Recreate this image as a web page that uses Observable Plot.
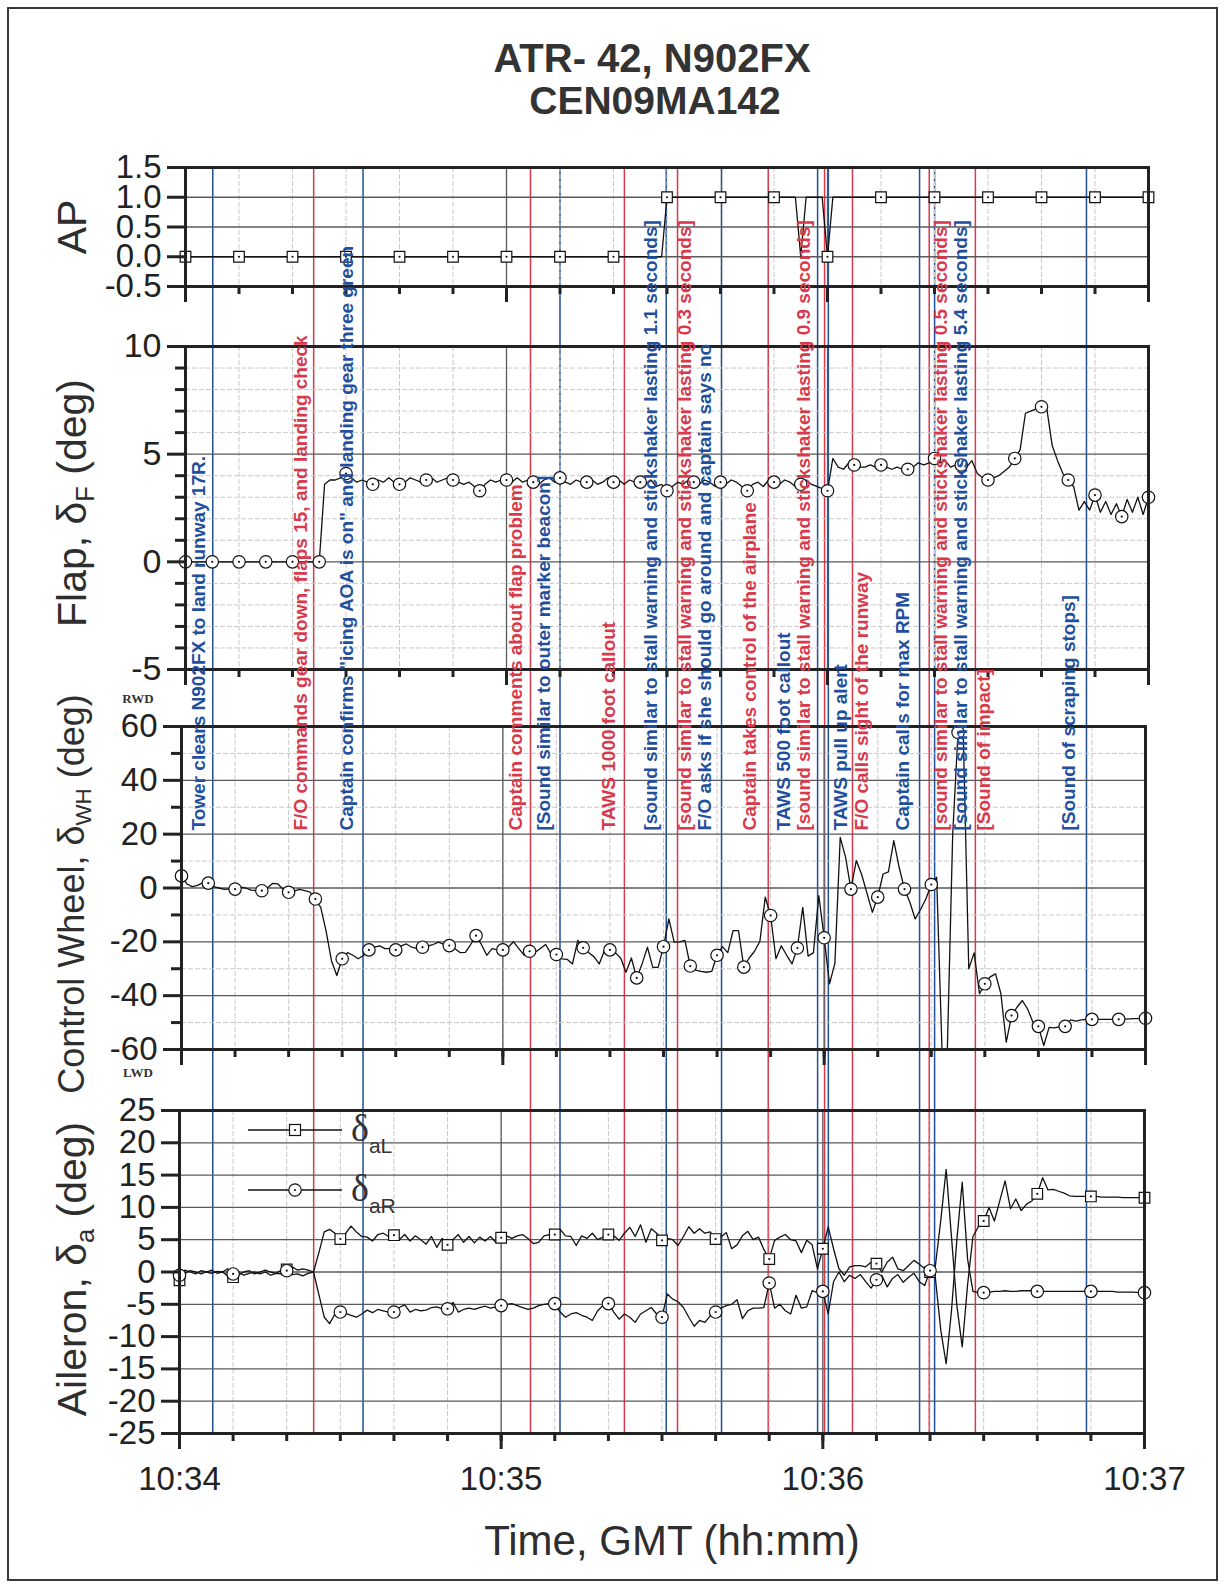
<!DOCTYPE html>
<html>
<head>
<meta charset="utf-8">
<script src="https://cdn.jsdelivr.net/npm/d3@7"></script>
<script src="https://cdn.jsdelivr.net/npm/@observablehq/plot@0.6"></script>
<style>
  html, body { margin: 0; padding: 0; background: #fff; }
  #fig { position: relative; width: 1225px; height: 1585px; overflow: hidden;
         font-family: "Liberation Sans", Arial, sans-serif; color: #2a2a2a; }
  #fig > svg { position: absolute; left: 0; top: 0; }
  .border { position: absolute; left: 7px; top: 7px; width: 1211px; height: 1574px;
            border: 2px solid #3a3a3a; box-sizing: border-box; }
  .title { position: absolute; transform: translate(-50%, -50%); font-weight: bold;
           font-size: 39px; white-space: nowrap; color: #333; }
  .ylab { position: absolute; transform: translate(-50%, -50%) rotate(-90deg);
          white-space: nowrap; color: #2e2e2e; font-size: 41px; }
  .ylab sub { font-size: 0.62em; vertical-align: -0.32em; line-height: 0; }
  .dir { position: absolute; transform: translate(-50%, -50%); font-family: "Liberation Serif", serif;
         font-weight: bold; font-size: 13px; color: #333; }
  .xtitle { position: absolute; transform: translate(-50%, -50%); font-size: 42px; white-space: nowrap; color: #2e2e2e; }
  .leg { position: absolute; font-family: "Liberation Serif", serif; font-size: 38px; color: #333; white-space: nowrap; }
  .leg sub { font-family: "Liberation Sans", Arial, sans-serif; font-size: 21px; vertical-align: -0.55em; line-height: 0; }
</style>
</head>
<body>
<div id="fig"></div>
<script>
// ---------------- data (1 sample per second, starting 10:34:00 GMT) ----------------
const startTime = "2009-01-27T10:34:00Z";

const apOn = [
  0,0,0,0,0,0,0,0,0,0, 0,0,0,0,0,0,0,0,0,0, 0,0,0,0,0,0,0,0,0,0,
  0,0,0,0,0,0,0,0,0,0, 0,0,0,0,0,0,0,0,0,0, 0,0,0,0,0,0,0,0,0,0,
  0,0,0,0,0,0,0,0,0,0, 0,0,0,0,0,0,0,0,0,0, 0,0,0,0,0,0,0,0,0,0,
  1,1,1,1,1,1,1,1,1,1, 1,1,1,1,1,1,1,1,1,1, 1,1,1,1,1,0,1,1,1,1,
  0,1,1,1,1,1,1,1,1,1, 1,1,1,1,1,1,1,1,1,1, 1,1,1,1,1,1,1,1,1,1,
  1,1,1,1,1,1,1,1,1,1, 1,1,1,1,1,1,1,1,1,1, 1,1,1,1,1,1,1,1,1,1,
  1
];

const flapDeg = [
  0,0,0,0,0,0,0,0,0,0,
  0,0,0,0,0,0,0,0,0,0,
  0,0,0,0,0,0,3.6,3.8,3.8,3.9,
  4.1,3.9,3.7,3.8,3.7,3.6,3.8,3.7,3.9,3.7,
  3.6,3.7,3.9,3.8,3.7,3.8,3.9,3.7,3.8,3.9,
  3.8,3.7,3.6,3.7,3.5,3.3,3.6,3.8,3.7,3.8,
  3.8,3.7,3.9,3.7,3.8,3.7,3.6,3.8,3.9,3.7,
  3.9,3.7,3.6,3.8,3.7,3.7,3.8,3.6,3.7,3.9,
  3.7,3.8,3.6,3.8,3.7,3.7,3.6,3.8,3.5,3.6,
  3.3,3.5,3.7,3.6,3.8,3.7,3.6,3.8,3.7,3.5,
  3.7,3.6,3.8,3.7,3.5,3.3,3.6,3.7,3.5,3.8,
  3.7,3.6,3.8,3.7,3.5,3.6,3.8,3.6,3.5,3.4,
  3.3,4.8,4.4,4.3,4.6,4.5,4.4,4.4,4.5,4.4,
  4.5,4.4,4.3,4.4,4.3,4.3,4.4,4.6,4.5,4.6,
  4.8,4.6,4.7,4.4,4.5,4.5,4.4,4.7,4.1,3.9,
  3.8,3.9,4.0,4.2,4.4,4.8,5.2,6.9,7.0,7.1,
  7.2,7.1,5.4,4.7,4.1,3.8,3.5,2.4,2.8,2.4,
  3.1,2.3,2.8,2.2,2.7,2.1,2.9,2.3,3.0,2.2,
  3.0
];

const wheelDeg = [
  4.5,1.5,0.5,1.0,2.0,1.8,0.5,0.0,-0.5,-0.3,
  -0.4,0.3,0.0,-0.8,-1.0,-1.0,0.0,1.7,1.5,-0.5,
  -1.6,-1.2,-0.5,-1.0,-1.5,-4.1,-7.2,-16,-27,-32.5,
  -26.3,-24,-25,-26.3,-25,-23,-22,-21.5,-22.5,-22.5,
  -23,-21.5,-20.8,-22,-22.5,-22,-21.5,-21,-20.1,-21,
  -21.4,-22.5,-24,-23.9,-21,-17.7,-21,-25,-22.5,-23,
  -23,-22,-20,-22.5,-25,-23.5,-24,-22.5,-21,-24.5,
  -24.7,-26.3,-26.5,-28.2,-19.5,-22.2,-24,-25.5,-28.2,-23,
  -23,-24,-26,-31.3,-26,-33.4,-28.2,-22,-29.5,-29.5,
  -21.8,-11.5,-20.1,-20,-19.5,-29,-30.5,-31,-31.3,-31,
  -25,-21.8,-24,-15.8,-15.8,-29.4,-26,-23.5,-19.8,-3.4,
  -10.2,-26.3,-21.5,-25,-28.2,-22.3,-7.2,-25.3,-24,-2.8,
  -18.5,-35.6,-28,18.8,11.4,-0.4,10.2,5,-2,-9,
  -3.4,5.2,6,17.6,7.7,-0.4,-5.3,-11.5,-8,-4,
  1.3,4,-60,-60,20,57.8,55,-30,-24.1,-39.3,
  -35.6,-33,-31.9,-39.3,-57.3,-47.4,-44.3,-41.8,-45,-50,
  -51.4,-58.5,-51.8,-52,-51.5,-51.4,-49,-49.5,-49,-48.8,
  -48.8,-48.8,-48.8,-48.8,-48.8,-48.8,-48.7,-48.6,-48.5,-48.5,
  -48.4
];

const aileronLeft = [
  -1.3,0.3,0.0,-0.3,0.2,0.0,0.3,-0.2,0.0,0.5,
  -0.8,-0.5,0.0,0.2,-0.3,0.0,0.3,0.0,-0.2,0.3,
  0.4,0.8,0.3,0.5,0.3,0.0,3.0,6.2,6.6,6.0,
  5.1,6.0,7.1,6.2,5.5,5.4,4.8,5.8,6.0,5.5,
  5.7,5.0,5.8,4.8,5.6,5.0,4.3,5.5,3.8,5.2,
  4.2,5.0,5.8,4.6,5.5,4.5,5.4,4.8,5.5,4.6,
  5.3,5.6,5.2,5.6,5.8,5.2,4.4,4.6,5.6,5.8,
  5.8,6.6,5.6,5.5,4.1,5.6,5.2,6.0,5.0,5.4,
  5.8,5.6,4.9,6.0,6.9,5.5,7.3,4.6,6.7,6.0,
  4.9,5.2,5.0,4.1,5.5,7.0,6.0,6.7,6.0,6.2,
  5.1,5.4,6.1,3.6,4.2,5.6,6.3,5.0,5.4,3.5,
  2.0,4.9,5.4,5.8,5.0,4.8,3.0,4.9,4.2,0.5,
  3.6,7.0,3.6,0.5,-0.5,0.8,1.0,1.0,0.8,1.5,
  1.3,0.0,1.5,2.3,0.5,0.2,1.0,1.8,1.2,0.5,
  0.0,1.0,8.0,15.9,5.4,-5.2,-11.6,-2.0,5.5,7.0,
  7.9,10.0,7.9,11.0,14.1,9.8,11.3,9.5,10.5,11.0,
  12.1,14.6,12.7,12.8,12.5,12.2,11.8,11.7,11.7,11.7,
  11.7,11.7,11.6,11.6,11.6,11.6,11.5,11.5,11.5,11.5,
  11.5
];

const aileronRight = [
  -0.5,-0.2,0.2,0.0,-0.3,0.0,-0.2,0.1,0.0,-0.6,
  -0.3,0.0,-0.5,-0.2,0.0,-0.3,0.0,-0.5,-0.2,-0.3,
  0.2,-0.4,-0.3,-0.6,-0.2,0.0,-3.5,-7.0,-8.0,-6.5,
  -6.2,-6.4,-6.7,-7.0,-6.5,-5.9,-6.3,-5.8,-6.0,-6.2,
  -6.2,-5.5,-5.1,-6.2,-5.8,-6.0,-5.9,-5.5,-5.4,-5.7,
  -5.7,-4.7,-6.2,-5.8,-5.6,-5.8,-5.5,-5.3,-5.6,-5.4,
  -5.2,-5.0,-4.9,-5.2,-5.5,-5.8,-5.6,-5.2,-5.0,-4.9,
  -4.9,-6.2,-7.0,-6.5,-6.3,-6.7,-7.0,-7.5,-6.0,-5.2,
  -4.9,-6.2,-7.3,-6.5,-7.0,-7.8,-6.5,-6.0,-5.5,-6.5,
  -7.0,-3.4,-4.2,-4.6,-5.5,-7.0,-8.4,-7.5,-7.8,-6.8,
  -6.2,-5.6,-5.2,-5.0,-4.3,-7.2,-6.0,-5.6,-5.6,-5.5,
  -1.7,-5.6,-5.0,-6.0,-6.5,-3.6,-5.6,-5.4,-2.9,-3.2,
  -3.0,-6.5,-1.5,0.0,-1.5,-0.5,-1.0,-0.4,-1.5,-2.5,
  -1.2,-0.5,-2.3,-1.0,-0.4,-1.6,-0.8,-0.2,-1.5,-2.1,
  0.2,-1.0,-9.0,-14.2,-6.0,5.0,13.9,2.0,-3.0,-3.2,
  -3.2,-3.1,-3.0,-3.0,-2.9,-3.0,-3.0,-2.9,-2.9,-2.9,
  -3.0,-3.0,-3.0,-3.0,-3.0,-3.0,-3.0,-3.0,-3.0,-3.0,
  -3.0,-3.0,-3.0,-3.0,-3.0,-3.1,-3.1,-3.1,-3.1,-3.2,
  -3.2
];

// CVR events: seconds after 10:34:00, where the label text sits, text, group
const eventSec   = [6.2, 25.0, 34.2, 65.4, 70.9, 82.9, 90.7, 92.8, 101.0, 109.7, 118.9, 120.2, 120.9, 125.4, 137.9, 139.7, 140.7, 148.3, 169.0];
const labelSec   = [4.8, 23.7, 32.3, 63.9, 69.0, 81.2, 88.9, 95.4, 99.1, 107.5, 113.7, 117.4, 124.3, 128.2, 136.0, 143.1, 146.8, 151.1, 166.9];
const eventGroup = ["A","B","A","B","A","B","A","B","A","B","A","B","A","B","A","B","A","B","A"];
const eventText  = [
  "Tower clears N902FX to land runway 17R.",
  "F/O commands gear down, flaps 15, and landing check",
  "Captain confirms \"icing AOA is on\" and landing gear three green",
  "Captain comments about flap problem",
  "[Sound similar to outer marker beacon]",
  "TAWS 1000 foot callout",
  "[sound similar to stall warning and stickshaker lasting 1.1 seconds]",
  "[sound similar to stall warning and stickshaker lasting 0.3 seconds]",
  "F/O asks if she should go around and captain says no",
  "Captain takes control of the airplane",
  "TAWS 500 foot callout",
  "[sound similar to stall warning and stickshaker lasting 0.9 seconds]",
  "TAWS pull up alert",
  "F/O calls sight of the runway",
  "Captain calls for max RPM",
  "[sound similar to stall warning and stickshaker lasting 0.5 seconds]",
  "[sound similar to stall warning and stickshaker lasting 5.4 seconds]",
  "[Sound of impact]",
  "[Sound of scraping stops]"
];

// axis ticks
const apTicks = [-0.5, 0, 0.5, 1.0, 1.5];
const flapTicks = [-5, 0, 5, 10];
const wheelTicks = [-60, -40, -20, 0, 20, 40, 60];
const aileronTicks = [-25, -20, -15, -10, -5, 0, 5, 10, 15, 20, 25];
const minuteLabels = ["10:34", "10:35", "10:36", "10:37"];

// ---------------- drawing ----------------
const W = 1225, H = 1585;
const FONT = '"Liberation Sans", Arial, sans-serif';
const INK = "#222";
const BLUE = "#1f4f9e", RED = "#d8394b";
const GRID_LIGHT = "#c9c9c9", GRID_DARK = "#5a5a5a";
const T0 = Date.parse(startTime);
const at = s => new Date(T0 + s * 1000);
const fig = document.getElementById("fig");

const rows = arr => arr.map((v, i) => ({t: at(i), v}));
const everyN = (r, n) => r.filter((d, i) => i % n === 0);
const tenSec = d3.range(0, 181, 10).map(at);
const minuteTicks = d3.range(0, 181, 60).map(at);
const innerMinutes = [at(60), at(120)];

function el(cls, html, x, y, extra) {
  const d = document.createElement("div");
  d.className = cls; d.innerHTML = html;
  d.style.left = x + "px"; d.style.top = y + "px";
  if (extra) Object.assign(d.style, extra);
  fig.appendChild(d);
  return d;
}

function place(svg) {
  svg.style.background = "transparent";
  svg.style.overflow = "visible";
  svg.style.fontFamily = FONT;
  svg.style.color = INK;
  svg.style.position = "absolute";
  svg.style.left = "0px";
  svg.style.top = "0px";
  svg.style.maxWidth = "none";
  fig.appendChild(svg);
}

function symbolMarks(data, symbol, r) {
  return [
    Plot.dot(data, {x: "t", y: "v", symbol, r, fill: "white", stroke: "#111", strokeWidth: 1.2}),
    Plot.dot(data, {x: "t", y: "v", r: 1.1, fill: "#111"})
  ];
}

function panel(cfg) {
  const marks = [
    Plot.gridX({ticks: tenSec, stroke: GRID_LIGHT, strokeOpacity: 1, strokeDasharray: "5,2"}),
    Plot.gridX({ticks: innerMinutes, stroke: GRID_DARK, strokeOpacity: 1, strokeWidth: 1.3})
  ];
  if (cfg.gridMinor) marks.push(Plot.gridY({ticks: cfg.gridMinor, stroke: GRID_LIGHT, strokeOpacity: 1, strokeDasharray: "5,2"}));
  marks.push(Plot.gridY({ticks: cfg.gridMajor, stroke: GRID_DARK, strokeOpacity: 1, strokeWidth: 1.3}));
  marks.push(...cfg.data);
  marks.push(Plot.frame({stroke: INK, strokeWidth: 3}));
  marks.push(Plot.axisY({ticks: cfg.ticks, tickSize: 18, tickPadding: 6, strokeWidth: 3,
                         fontSize: cfg.tickFont || 33, tickFormat: cfg.fmt, label: null}));
  if (cfg.minor) marks.push(Plot.axisY({ticks: cfg.minor, tickSize: 10, strokeWidth: 3, tickFormat: () => "", label: null}));
  marks.push(Plot.axisX({ticks: tenSec, tickSize: 8, strokeWidth: 3, tickFormat: () => "", label: null}));
  marks.push(Plot.axisX({ticks: minuteTicks, tickSize: 16, strokeWidth: 3, tickPadding: 17, fontSize: 33,
                         tickFormat: cfg.xLabels ? (d, i) => minuteLabels[i] : () => "", label: null}));
  const svg = Plot.plot({
    width: W, height: H,
    marginLeft: cfg.left, marginRight: W - cfg.right,
    marginTop: cfg.top, marginBottom: H - cfg.bottom,
    x: {type: "utc", domain: [at(0), at(180)]},
    y: {domain: cfg.domain},
    marks
  });
  place(svg);
}

// frame and titles
el("border", "", 7, 7);
el("title", "ATR- 42, N902FX", 652, 58, {fontSize: "40px"});
el("title", "CEN09MA142", 655, 101);

const events = eventSec.map((s, i) => ({time: at(s), labelTime: at(labelSec[i]), group: eventGroup[i], text: eventText[i]}));

// event lines (under the data)
place(Plot.plot({
  width: W, height: H, marginLeft: 179, marginRight: W - 1145, marginTop: 167, marginBottom: H - 1433,
  x: {type: "utc", domain: [at(0), at(180)], axis: null},
  marks: [
    Plot.ruleX(events.filter(d => d.group === "A"), {x: "time", stroke: BLUE, strokeWidth: 1.5}),
    Plot.ruleX(events.filter(d => d.group === "B"), {x: "time", stroke: RED, strokeWidth: 1.5})
  ]
}));

// AP
panel({
  left: 185, right: 1148, top: 167, bottom: 286, domain: [-0.5, 1.5], tickFont: 33,
  ticks: apTicks, fmt: d => d.toFixed(1), gridMajor: [0, 0.5, 1.0],
  data: [Plot.line(rows(apOn), {x: "t", y: "v", stroke: "#111", strokeWidth: 1.3}),
         ...symbolMarks(everyN(rows(apOn), 10), "square", 6)]
});

// Flap
panel({
  left: 185, right: 1148, top: 346, bottom: 669, domain: [-5, 10], tickFont: 34,
  ticks: flapTicks, fmt: d => String(d), minor: d3.range(-4, 10).filter(d => d % 5 !== 0),
  gridMajor: [0, 5], gridMinor: d3.range(-4, 10).filter(d => d % 5 !== 0),
  data: [Plot.line(rows(flapDeg), {x: "t", y: "v", stroke: "#111", strokeWidth: 1.3}),
         ...symbolMarks(everyN(rows(flapDeg), 5), "circle", 6.2)]
});

// Control wheel
panel({
  left: 181, right: 1145, top: 726, bottom: 1049, domain: [-60, 60],
  ticks: wheelTicks, fmt: d => String(d), minor: [-50, -30, -10, 10, 30, 50],
  gridMajor: [-40, -20, 0, 20, 40], gridMinor: [-50, -30, -10, 10, 30, 50],
  data: [Plot.line(rows(wheelDeg), {x: "t", y: "v", stroke: "#111", strokeWidth: 1.3}),
         ...symbolMarks(everyN(rows(wheelDeg), 5), "circle", 6.2)]
});

// Aileron
panel({
  left: 179, right: 1144, top: 1110, bottom: 1433, domain: [-25, 25],
  ticks: aileronTicks, fmt: d => String(d), xLabels: true,
  gridMajor: [-20, -15, -10, -5, 0, 5, 10, 15, 20],
  data: [Plot.line(rows(aileronLeft), {x: "t", y: "v", stroke: "#111", strokeWidth: 1.3}),
         Plot.line(rows(aileronRight), {x: "t", y: "v", stroke: "#111", strokeWidth: 1.3}),
         ...symbolMarks(everyN(rows(aileronLeft), 10), "square", 6),
         ...symbolMarks(everyN(rows(aileronRight), 10), "circle", 6.2)]
});

// event labels (on top)
place(Plot.plot({
  width: W, height: H, marginLeft: 179, marginRight: W - 1145, marginTop: 167, marginBottom: H - 830,
  x: {type: "utc", domain: [at(0), at(180)], axis: null},
  marks: [
    Plot.text(events.filter(d => d.group === "A"), {x: "labelTime", text: "text", rotate: -90, textAnchor: "start",
      frameAnchor: "bottom", fill: BLUE, fontSize: 19, fontWeight: "bold", fontFamily: FONT}),
    Plot.text(events.filter(d => d.group === "B"), {x: "labelTime", text: "text", rotate: -90, textAnchor: "start",
      frameAnchor: "bottom", fill: RED, fontSize: 19, fontWeight: "bold", fontFamily: FONT})
  ]
}));

// axis titles
el("ylab", "AP", 72, 227);
el("ylab", "Flap, &delta;<sub>F</sub> (deg)", 72, 503);
el("ylab", "Control Wheel, &delta;<sub>WH</sub> (deg)", 72, 894, {fontSize: "36px"});
el("ylab", "Aileron, &delta;<sub>a</sub> (deg)", 72, 1269);
el("dir", "RWD", 138, 699);
el("dir", "LWD", 138, 1073);
el("xtitle", "Time, GMT (hh:mm)", 672, 1541);

// legend
const ns = "http://www.w3.org/2000/svg";
const leg = document.createElementNS(ns, "svg");
leg.setAttribute("width", 110); leg.setAttribute("height", 100);
leg.style.position = "absolute"; leg.style.left = "242px"; leg.style.top = "1110px";
leg.innerHTML = `
  <line x1="6" y1="20" x2="100" y2="20" stroke="#111" stroke-width="1.3"/>
  <rect x="47.5" y="14.5" width="11" height="11" fill="white" stroke="#111" stroke-width="1.2"/>
  <circle cx="53" cy="20" r="1.1" fill="#111"/>
  <line x1="6" y1="80" x2="100" y2="80" stroke="#111" stroke-width="1.3"/>
  <circle cx="53" cy="80" r="6.2" fill="white" stroke="#111" stroke-width="1.2"/>
  <circle cx="53" cy="80" r="1.1" fill="#111"/>`;
fig.appendChild(leg);
el("leg", "&delta;<sub>aL</sub>", 351, 1106);
el("leg", "&delta;<sub>aR</sub>", 351, 1166);
</script>
</body>
</html>
